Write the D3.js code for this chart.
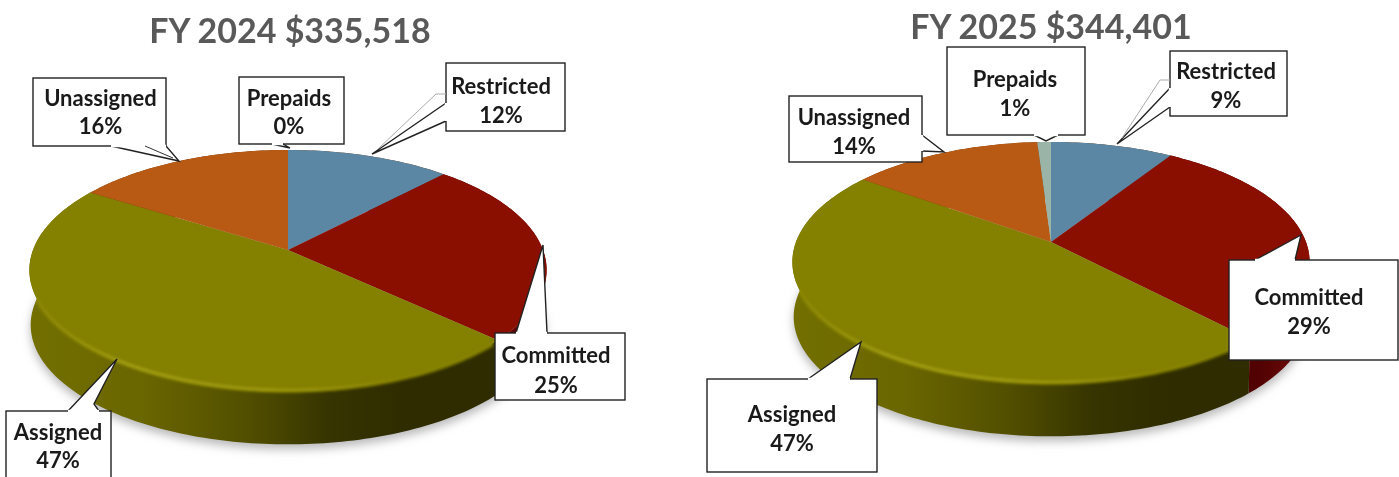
<!DOCTYPE html>
<html><head><meta charset="utf-8">
<script src="https://cdn.jsdelivr.net/npm/d3@7/dist/d3.min.js"></script>
<style>html,body{margin:0;padding:0;background:#fff;overflow:hidden}svg{display:block;filter:blur(.45px)}</style>
</head><body><div id="c"></div>
<script>
const categories = ["Restricted","Committed","Assigned","Unassigned","Prepaids"];
const values2024 = [12,25,47,16,0];
const values2025 = [9,29,47,14,1];
const titles = ["FY 2024 $335,518","FY 2025 $344,401"];

const faceColors = ["#5b87a5","#8a0f00","#848000","#b85a14","#9ab5a8"];
const panels = [
 {values:values2024,title:titles[0],tx:290,ty:29,ax:288,ay:250,
  callouts:[
   {c:"Unassigned",p:"16%",tx:100.5,ty:[97,125],box:[33,78,166,146],tail:[[111,146],[179,161],[166,146]],inner:[[145,146],[173,158]]},
   {c:"Prepaids",p:"0%",tx:289,ty:[97,125],box:[239,77,344,144],tail:[[272,144],[290,148],[283,144]]},
   {c:"Restricted",p:"12%",tx:501,ty:[85,114],box:[446,63,565,131],tail:[[446,121],[372,154],[446,103]],gray:[[446,94],[436,94],[378,149]]},
   {c:"Committed",p:"25%",tx:556,ty:[354,384],box:[495,333,625,400],tail:[[516,333],[543,245],[547,333]]},
   {c:"Assigned",p:"47%",tx:58,ty:[431,459],box:[6,411,111,490],tail:[[68,411],[117,359],[94,404],[99,411]]}
  ]},
 {values:values2025,title:titles[1],tx:1051,ty:25,ax:1051,ay:242,
  callouts:[
   {c:"Unassigned",p:"14%",tx:854,ty:[116,145],box:[789,96,922,162],tail:[[922,135],[944,152],[922,151]]},
   {c:"Prepaids",p:"1%",tx:1015,ty:[78,107],box:[947,47,1085,135],tail:[[1034,135],[1046,141],[1058,135]]},
   {c:"Restricted",p:"9%",tx:1226,ty:[70,99],box:[1170,51,1287,116],tail:[[1170,107],[1117,144],[1170,88]],gray:[[1170,80],[1160,80],[1122,138]]},
   {c:"Committed",p:"29%",tx:1309,ty:[296,325],box:[1229,260,1398,360],tail:[[1255,260],[1301,235],[1295,260]]},
   {c:"Assigned",p:"47%",tx:792,ty:[413,442],box:[707,379,877,472],tail:[[808,379],[861,342],[850,379]]}
  ]}
];

const W=1399,H=477;
const svg=d3.select("#c").append("svg").attr("width",W).attr("height",H);
const defs=svg.append("defs");
defs.append("filter").attr("id","sh").attr("x","-10%").attr("y","-10%").attr("width","120%").attr("height","130%").append("feGaussianBlur").attr("stdDeviation",5);
defs.append("filter").attr("id","rim").attr("x","-10%").attr("y","-10%").attr("width","120%").attr("height","120%").append("feGaussianBlur").attr("stdDeviation",1.6);

// perspective projection of the pie disc
const A=255,B=116.7,K=0.1667,DEPTH=55,SHRINK=0.995;
function proj(p,t,lvl){
  const u=Math.sin(t),v=-Math.cos(t),w=1-K*v,s=lvl?SHRINK:1;
  return [p.ax+s*A*u/w, p.ay+s*B*v/w+(lvl?DEPTH:0)];
}
const line=d3.line();
const steps=(a,b)=>d3.range(0,Math.max(2,Math.ceil((b-a)/0.02))+1).map((i,_,r)=>a+(b-a)*i/(r.length-1));
const pie=d3.pie().sort(null).value(d=>d);

function grad(id,p,stops){
  const g=defs.append("linearGradient").attr("id",id).attr("gradientUnits","userSpaceOnUse")
    .attr("x1",p.ax-262).attr("x2",p.ax+262).attr("y1",0).attr("y2",0);
  stops.forEach(s=>g.append("stop").attr("offset",s[0]).attr("stop-color",s[1]).attr("stop-opacity",s[2]===undefined?1:s[2]));
}

panels.forEach((p,pi)=>{
  const g=svg.append("g");
  const arcs=pie(p.values);
  grad("w2"+pi,p,[[0,"#737000"],[.22,"#6a6600"],[.42,"#524f00"],[.58,"#363400"],[.72,"#2f2d00"],[1,"#2f2d00"]]);
  grad("w1"+pi,p,[[0,"#7a0a00"],[.7,"#4a0000"],[.9,"#520202"],[1,"#7a0c0c"]]);
  grad("hl"+pi,p,[[0,"#a8a414",.15],[.2,"#aaa618",.95],[.5,"#a8a414",.75],[.72,"#9a9610",.15],[1,"#9a9610",0]]);
  const wallFill={Committed:`url(#w1${pi})`,Assigned:`url(#w2${pi})`};
  const whole=steps(0,2*Math.PI);
  const wallD=d=>{
    const s=steps(d.startAngle,d.endAngle);
    return line(s.map(t=>proj(p,t,0)).concat(s.slice().reverse().map(t=>proj(p,t,1))))+"Z";
  };

  // soft shadow below the disc
  g.append("path").attr("d",line(whole.map(t=>{const q=proj(p,t,1);return [q[0],q[1]+5];}))+"Z")
    .attr("fill","#b9b9b9").attr("filter","url(#sh)");

  // walls
  g.selectAll("path.wall").data(arcs).join("path").attr("class","wall")
    .attr("d",wallD)
    .attr("fill",(d,i)=>wallFill[categories[i]]||"#6e3608");

  // faces
  const ap=[p.ax,p.ay];
  g.selectAll("path.face").data(arcs).join("path").attr("class","face")
    .attr("d",d=>d.value?line([ap].concat(steps(d.startAngle,d.endAngle).map(t=>proj(p,t,0))))+"Z":null)
    .attr("fill",(d,i)=>faceColors[i]);

  // bevel along the front edge of the largest slice, kept inside the disc
  const cp=defs.append("clipPath").attr("id","disc"+pi);
  const asg=arcs[categories.indexOf("Assigned")];
  cp.append("path").attr("d",wallD(asg));
  cp.append("path").attr("d",line([ap].concat(steps(asg.startAngle,asg.endAngle).map(t=>proj(p,t,0))))+"Z");
  const edge=line(steps(asg.startAngle+0.03,asg.endAngle-0.12).map(t=>proj(p,t,0)));
  const bev=g.append("g").attr("clip-path",`url(#disc${pi})`);
  bev.append("path").attr("d",edge).attr("fill","none").attr("stroke","#848000").attr("stroke-width",5).attr("filter","url(#rim)");
  bev.append("path").attr("d",edge).attr("fill","none").attr("stroke",`url(#hl${pi})`).attr("stroke-width",2.6).attr("filter","url(#rim)");

  // callouts
  p.callouts.forEach(c=>{
    const [x0,y0,x1,y1]=c.box;
    const cg=g.append("g");
    cg.append("rect").attr("x",x0).attr("y",y0).attr("width",x1-x0).attr("height",y1-y0)
      .attr("fill","#fff").attr("stroke","#222").attr("stroke-width",1.4);
    cg.append("path").attr("d",line(c.tail)).attr("fill","#fff").attr("stroke","#222").attr("stroke-width",1.4);
    const tb=c.tail[0],te=c.tail[c.tail.length-1];
    cg.append("path").attr("d",line([tb,te])).attr("stroke","#fff").attr("stroke-width",2.4).attr("fill","none");
    if(c.gray) cg.append("path").attr("d",line(c.gray)).attr("fill","none").attr("stroke","#aaa").attr("stroke-width",1);
    if(c.inner) cg.append("path").attr("d",line(c.inner)).attr("fill","none").attr("stroke","#333").attr("stroke-width",1);
    [c.c,c.p].forEach((s,i)=>cg.append("text").attr("x",c.tx).attr("y",c.ty[i])
      .attr("text-anchor","middle").attr("dominant-baseline","central")
      .attr("font-family","Lato").attr("font-weight",700).attr("font-size",22).attr("fill","#1a1a1a").text(s));
  });

  g.append("text").attr("x",p.tx).attr("y",p.ty).attr("text-anchor","middle").attr("dominant-baseline","central")
    .attr("font-family","Lato").attr("font-weight",700).attr("font-size",34).attr("fill","#595959").text(p.title);
});
</script></body></html>
